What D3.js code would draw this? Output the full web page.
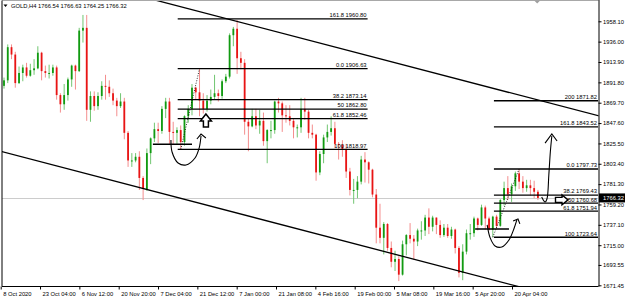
<!DOCTYPE html>
<html>
<head>
<meta charset="utf-8">
<script src="https://cdnjs.cloudflare.com/ajax/libs/d3/7.8.5/d3.min.js"></script>
<style>
  body { margin: 0; background: #fff; }
  svg { display: block; }
  text { font-family: "Liberation Sans", Arial, sans-serif; font-size: 5.8px; fill: #000; }
</style>
</head>
<body>
<svg id="chart" width="625" height="298"></svg>
<script>
// GOLD H4, 8 Oct 2020 - 29 Apr 2021 (one row per trading day)
const symbolName = "GOLD,H4";
const lastBar = [1766.54, 1766.63, 1764.25, 1766.32];   // O H L C of the live H4 bar

const timeLabels = ["8 Oct 2020", "23 Oct 04:00", "6 Nov 12:00", "20 Nov 20:00", "7 Dec 04:00",
  "21 Dec 12:00", "7 Jan 00:00", "21 Jan 08:00", "4 Feb 16:00", "19 Feb 00:00", "5 Mar 08:00",
  "19 Mar 16:00", "5 Apr 20:00", "20 Apr 04:00"];

const priceTicks = [1958.10, 1936.00, 1913.90, 1891.80, 1869.70, 1847.60, 1825.50, 1803.40,
  1781.30, 1759.20, 1737.10, 1715.00, 1693.55, 1671.45];

// [open, high, low, close]
const candles = [
  // Oct
  [1888,1897,1885,1894],[1894,1933,1891,1930],[1930,1933,1917,1922],[1922,1925,1886,1891],[1891,1909,1890,1902],
  [1902,1911,1893,1908],[1908,1913,1897,1899],[1899,1912,1898,1905],[1905,1917,1900,1907],[1907,1931,1906,1924],
  [1924,1925,1894,1904],[1904,1910,1897,1902],[1902,1911,1896,1902],[1902,1911,1899,1908],[1908,1910,1873,1878],
  [1878,1880,1859,1868],[1868,1890,1862,1878],
  // Nov
  [1878,1897,1872,1895],[1895,1911,1887,1910],[1910,1911,1884,1904],[1904,1951,1903,1948],[1948,1965,1935,1951],
  [1951,1965,1850,1862],[1862,1882,1849,1877],[1877,1882,1861,1866],[1866,1881,1862,1877],[1877,1893,1873,1888],
  [1888,1900,1873,1887],[1887,1894,1876,1880],[1880,1885,1867,1872],[1872,1875,1855,1866],[1866,1880,1864,1871],
  [1871,1875,1830,1837],[1837,1839,1800,1807],[1807,1815,1800,1807],[1807,1815,1805,1811],[1811,1817,1775,1788],
  [1788,1790,1764,1776],
  // Dec
  [1776,1820,1774,1815],[1815,1832,1803,1831],[1831,1848,1827,1841],[1841,1848,1826,1839],[1839,1866,1836,1863],
  [1863,1875,1853,1871],[1871,1875,1824,1838],[1838,1849,1825,1837],[1837,1843,1825,1840],[1840,1845,1818.97,1827],
  [1827,1856,1823,1855],[1855,1867,1848,1863],[1863,1890,1856,1886],[1886,1887,1873,1881],[1881,1906.63,1855,1872],
  [1872,1880,1858,1863],[1863,1878,1860,1872],[1872,1884,1868,1876],[1876,1900,1873,1880],[1880,1884,1871,1877],
  [1877,1895,1874,1893],[1893,1901,1891,1898],
  // Jan
  [1898,1945,1896,1943],[1943,1952,1931,1950],[1950,1959.4,1901,1918],[1918,1925,1906,1913],[1913,1917,1835,1849],
  [1849,1852,1817,1844],[1844,1863,1843,1855],[1855,1863,1841,1845],[1845,1862,1836,1850],[1850,1859,1823,1828],
  [1828,1841,1804,1840],[1840,1850,1831,1840],[1840,1872,1836,1871],[1871,1875,1859,1869],[1869,1871,1838,1856],
  [1856,1867,1848,1855],[1855,1867,1845,1850],[1850,1852,1831,1843],[1843,1846,1832,1843],[1843,1875,1837,1863],
  // Feb
  [1863,1875,1851,1860],[1860,1862,1831,1837],[1837,1846,1831,1835],[1835,1836,1785,1794],[1794,1817,1791,1814],
  [1814,1835,1804,1832],[1832,1846,1827,1838],[1838,1855,1834,1842],[1842,1849,1821,1825],[1825,1827,1808,1824],
  [1824,1829,1811,1819],[1819,1825,1788,1795],[1795,1799,1769,1775],[1775,1787,1760,1775],[1775,1790,1766,1784],
  [1784,1812,1781,1808],[1808,1816,1783,1805],[1805,1806,1782,1797],[1797,1798,1767,1770],[1770,1776,1717,1734],
  // Mar
  [1734,1760,1717,1723],[1723,1740,1705,1738],[1738,1739,1709,1712],[1712,1719,1691,1697],[1697,1709,1687,1700],
  [1700,1703,1676,1683],[1683,1720,1682,1716],[1716,1727,1704,1726],[1726,1739,1717,1722],[1722,1726,1699,1719],
  [1719,1733,1714,1731],[1731,1741,1721,1731],[1731,1748,1725,1745],[1745,1755,1727,1735],[1735,1747,1730,1745],
  [1745,1745,1727,1737],[1737,1742,1723,1726],[1726,1738,1724,1734],[1734,1738,1723,1725],[1725,1735,1722,1732],
  [1732,1733,1706,1712],[1712,1714,1680,1685],[1685,1716,1677,1708],
  // Apr
  [1708,1732,1705,1728],[1728,1738,1721,1728],[1728,1746,1724,1744],[1744,1745,1731,1737],[1737,1759,1736,1756],
  [1756,1758,1732,1744],[1744,1746,1731,1732],[1732,1747,1723.64,1746],[1746,1748,1733,1736],[1736,1765,1735,1764],
  [1764,1784,1758,1777],[1777,1790,1764,1770],[1770,1782,1762,1779],[1779,1795,1774,1793],[1793,1797.73,1776,1784],
  [1784,1790,1772,1777],[1777,1786,1773,1780],[1780,1786,1769,1777],[1777,1785,1766,1773],[1773,1775,1764,1766.32]
];

// Fibonacci tools: price at level 0 and at level 100, ratios from level 0, their captions,
// and the span of the tool in trading-day index
const fibDecAnchors = [1906.63, 1818.97];
const fibDecRatios = [-0.618, 0, 0.382, 0.5, 0.618, 1];
const fibDecCaptions = ["161.8", "0.0", "38.2", "50", "61.8", "100"];
const fibDecSpan = [46.2, 96.7];
const fibDecDiag = [47, 52];
const fibAprAnchors = [1797.73, 1723.64];
const fibAprRatios = [-1, -0.618, 0, 0.382, 0.5, 0.618, 1];
const fibAprCaptions = ["200", "161.8", "0.0", "38.2", "50", "61.8", "100"];
const fibAprSpan = [130.3, 158];
const fibAprDiag = [130, 137];

// channel trendlines, [day, price] pairs
const upperChannel = [[41.2, 1980.1], [158, 1855.6]];
const lowerChannel = [[-0.5, 1816.5], [135.9, 1671.1]];

// short horizontal lines [fromDay, toDay, price]
const hLines = [[39.6, 50.0, 1824.6], [125.3, 134.3, 1732.6]];

// hand drawn arrows: path points then arrow head [barb, tip, barb]
const drawnArrows = [
  { path: [[44.4,1829.2],[44.7,1816.2],[46.3,1804.3],[48.4,1802.1],[50.8,1809.7],[51.9,1820.5],[52.4,1833.6]],
    head: [[51.3,1830.3],[52.4,1835.7],[53.7,1831.4]] },
  { path: [[128.5,1737.0],[129.3,1722.9],[130.6,1714.2],[132.4,1713.1],[134.3,1720.7],[135.6,1732.6],[136.4,1742.4]],
    head: [[135.4,1741.3],[136.7,1743.4],[137.2,1738.1]] },
  { path: [[143.0,1767.3],[143.9,1761.9],[144.4,1765.2],[144.9,1791.2],[145.3,1816.2],[145.7,1833.6]],
    head: [[143.9,1825.9],[145.7,1835.7],[147.1,1828.1]] }
];
const upBlockArrow = [53.7, 1857.4];     // tip
const rightBlockArrow = [150.0, 1764.2];  // tip
const shiftMarkerDay = 141.8;

// ---------------------------------------------------------------
const svg = d3.select("#chart");
const plotLeft = 2, plotRight = 598.5, plotTop = 0.5, plotBottom = 286.5;

// x: H4 bar number, a trading day spans ~5.74 H4 bars
const FIRST_BAR = 5.03, BARS_PER_DAY = 5.736;
const x = d3.scaleLinear().domain([0, 780]).range([0.7, 512]);
const xd = d => x(FIRST_BAR + d * BARS_PER_DAY);
const y = d3.scaleLinear().domain([1671.45, 1958.10]).range([285.3, 21.3]);

svg.append("defs").append("clipPath").attr("id", "plotClip")
  .append("rect")
    .attr("x", plotLeft).attr("y", plotTop)
    .attr("width", plotRight - plotLeft).attr("height", plotBottom - plotTop);

const plot = svg.append("g").attr("clip-path", "url(#plotClip)");

// current price line
plot.append("line")
  .attr("x1", plotLeft).attr("x2", plotRight)
  .attr("y1", Math.round(y(lastBar[3])) + 0.5).attr("y2", Math.round(y(lastBar[3])) + 0.5)
  .attr("stroke", "#cccccc").attr("stroke-width", 1);

// candles
const candleG = plot.append("g")
  .selectAll("g")
  .data(candles)
  .join("g");

candleG.append("line")
    .attr("x1", (d, i) => xd(i)).attr("x2", (d, i) => xd(i))
    .attr("y1", d => y(d[1])).attr("y2", d => y(d[2]))
    .attr("stroke", d => d[3] >= d[0] ? "#72c672" : "#f48e8e")
    .attr("stroke-width", 1);

candleG.append("rect")
    .attr("x", (d, i) => xd(i) - 0.9)
    .attr("width", 1.8)
    .attr("y", d => y(Math.max(d[0], d[3])))
    .attr("height", d => Math.max(1, Math.abs(y(d[0]) - y(d[3]))))
    .attr("fill", d => d[3] >= d[0] ? "#119a11" : "#e81414");

// channel lines
const line = d3.line().x(d => xd(d[0])).y(d => y(d[1]));
[upperChannel, lowerChannel].forEach(pts => {
    const [a, b] = pts;
    const slope = (b[1] - a[1]) / (b[0] - a[0]);
    const ext = [[-10, a[1] + slope * (-10 - a[0])], [170, a[1] + slope * (170 - a[0])]];
    plot.append("path")
      .attr("d", line(ext))
      .attr("fill", "none").attr("stroke", "#000").attr("stroke-width", 1.3);
});

// fibonacci
function drawFib(anchors, ratios, captions, span, diag) {
    const [p0, p100] = anchors;
    const levelPrice = r => p0 + (p100 - p0) * r;
    const g = plot.append("g");
    g.append("path")
      .attr("d", line([[diag[0], p100], [diag[1], p0]]))
      .attr("stroke", "#000").attr("stroke-width", 0.8).attr("stroke-dasharray", "1,1.5");
    g.selectAll("line.fib")
      .data(ratios)
      .join("line")
        .attr("class", "fib")
        .attr("x1", xd(span[0])).attr("x2", xd(span[1]))
        .attr("y1", d => y(levelPrice(d))).attr("y2", d => y(levelPrice(d)))
        .attr("stroke", "#000").attr("stroke-width", 1.3);
    g.selectAll("text")
      .data(ratios)
      .join("text")
        .attr("text-anchor", "end")
        .attr("x", Math.min(xd(span[1]), plotRight) - 1)
        .attr("y", d => y(levelPrice(d)) - 1.6)
        .text((d, i) => captions[i] + " " + levelPrice(d).toFixed(2));
}
drawFib(fibDecAnchors, fibDecRatios, fibDecCaptions, fibDecSpan, fibDecDiag);
drawFib(fibAprAnchors, fibAprRatios, fibAprCaptions, fibAprSpan, fibAprDiag);

// short horizontals
plot.selectAll("line.hl")
  .data(hLines)
  .join("line")
    .attr("class", "hl")
    .attr("x1", d => xd(d[0])).attr("x2", d => xd(d[1]))
    .attr("y1", d => y(d[2])).attr("y2", d => y(d[2]))
    .attr("stroke", "#000").attr("stroke-width", 1.3);

// hand drawn arrows
const curve = d3.line().x(d => xd(d[0])).y(d => y(d[1])).curve(d3.curveCatmullRom);
drawnArrows.forEach(a => {
    plot.append("path").attr("d", curve(a.path))
      .attr("fill", "none").attr("stroke", "#000").attr("stroke-width", 1.1);
    plot.append("path").attr("d", line(a.head))
      .attr("fill", "none").attr("stroke", "#000").attr("stroke-width", 1.1);
});

// block arrows (glyphs anchored at their tip)
{
    const tx = xd(upBlockArrow[0]), ty = y(upBlockArrow[1]);
    plot.append("path")
      .attr("d", `M${tx},${ty} L${tx + 5.5},${ty + 7} L${tx + 2.5},${ty + 7} L${tx + 2.5},${ty + 13}
                  L${tx - 2.5},${ty + 13} L${tx - 2.5},${ty + 7} L${tx - 5.5},${ty + 7} Z`)
      .attr("fill", "#fff").attr("stroke", "#000").attr("stroke-width", 1.5).attr("stroke-linejoin", "miter");
}
{
    const tx = xd(rightBlockArrow[0]), ty = y(rightBlockArrow[1]);
    plot.append("path")
      .attr("d", `M${tx},${ty} L${tx - 6},${ty - 5} L${tx - 6},${ty - 2.5} L${tx - 12.5},${ty - 2.5}
                  L${tx - 12.5},${ty + 2.5} L${tx - 6},${ty + 2.5} L${tx - 6},${ty + 5} Z`)
      .attr("fill", "#fff").attr("stroke", "#000").attr("stroke-width", 1.4);
}

// frame
svg.append("line").attr("x1", plotLeft).attr("x2", plotRight).attr("y1", plotTop).attr("y2", plotTop)
  .attr("stroke", "#a8a8a8");
svg.append("line").attr("x1", plotLeft).attr("x2", plotLeft).attr("y1", plotTop).attr("y2", plotBottom)
  .attr("stroke", "#000");
svg.append("line").attr("x1", plotLeft).attr("x2", plotRight).attr("y1", plotBottom).attr("y2", plotBottom)
  .attr("stroke", "#000");

// shift marker
{
    const sx = xd(shiftMarkerDay);
    svg.append("path").attr("d", `M${sx - 3},${plotTop} L${sx + 3},${plotTop} L${sx},${plotTop + 3} Z`)
      .attr("fill", "#a0a0a0");
}

// price axis
const yAxis = svg.append("g")
  .attr("transform", `translate(${plotRight},0)`)
  .call(d3.axisRight(y).tickValues(priceTicks).tickFormat(d3.format(".2f")).tickSize(3).tickPadding(1.5));
yAxis.select(".domain").attr("stroke", "#000").attr("d", `M0.5,0V${plotBottom}`);
yAxis.selectAll("text").style("font-family", "'Liberation Sans', Arial, sans-serif").style("font-size", "5.8px");

// current price box
{
    const cy = y(lastBar[3]);
    svg.append("rect").attr("x", plotRight + 0.5).attr("y", cy - 4.5).attr("width", 27).attr("height", 9)
      .attr("fill", "#000");
    svg.append("text").attr("x", plotRight + 4.5).attr("y", cy).attr("dy", "0.35em")
      .style("fill", "#fff").text(lastBar[3].toFixed(2));
}

// time axis
const xAxis = svg.append("g")
  .attr("transform", `translate(0,${plotBottom})`)
  .call(d3.axisBottom(x).tickValues(d3.range(0, 781, 60)).tickFormat((d, i) => timeLabels[i])
    .tickSize(3).tickPadding(1.9));
xAxis.select(".domain").remove();
xAxis.selectAll("line").attr("stroke", "#000");
xAxis.selectAll("text").attr("text-anchor", "start").attr("dx", 2)
  .style("font-family", "'Liberation Sans', Arial, sans-serif").style("font-size", "5.8px");

// header
svg.append("path").attr("d", "M3.5,4.5 L7.5,4.5 L5.5,7 Z").attr("fill", "#000");
svg.append("text").attr("x", 11).attr("y", 8.3)
  .text(symbolName + "  " + lastBar.map(v => v.toFixed(2)).join(" "));
</script>
</body>
</html>
